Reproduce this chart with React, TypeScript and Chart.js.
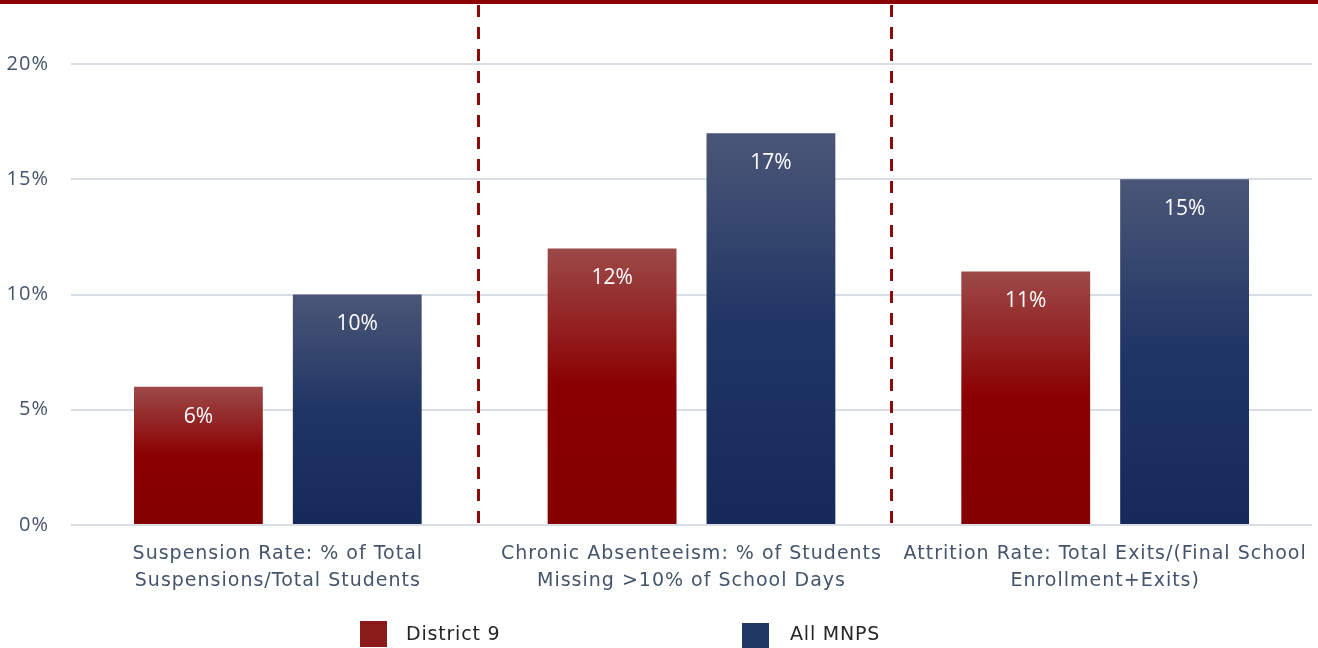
import React, { useEffect, useRef } from 'react';
import { Chart, registerables } from 'chart.js';
Chart.register(...registerables);

const categories: string[][] = [
  ['Suspension Rate: % of Total', 'Suspensions/Total Students'],
  ['Chronic Absenteeism: % of Students', 'Missing >10% of School Days'],
  ['Attrition Rate: Total Exits/(Final School', 'Enrollment+Exits)'],
];
const seriesNames = ['District 9', 'All MNPS'];
const district9 = [6, 12, 11];
const allMnps = [10, 17, 15];
const yMin = 0;
const yMax = 20;
const yStep = 5;

const RED_STOPS = ['#9c4a49', '#8b0000', '#840000'];
const BLUE_STOPS = ['#4b5677', '#1f3564', '#162a59'];
const LEGEND_RED = '#8b1a1a';
const LEGEND_BLUE = '#1f3864';
const LABEL_FONT = '"DejaVu Sans", sans-serif';

function gradient(stops: string[]) {
  return (ctx: any) => {
    const chart = ctx.chart;
    if (!chart.chartArea || ctx.type !== 'data') return stops[1];
    const y = chart.scales.y;
    const top = y.getPixelForValue(ctx.raw);
    const bottom = y.getPixelForValue(0);
    if (!isFinite(top) || !isFinite(bottom) || bottom - top < 1) return stops[1];
    const g = chart.ctx.createLinearGradient(0, top, 0, bottom);
    g.addColorStop(0, stops[0]);
    g.addColorStop(0.5, stops[1]);
    g.addColorStop(1, stops[2]);
    return g;
  };
}

const spacingPlugin = {
  id: 'letterSpacing',
  beforeDraw(chart: any) {
    (chart.ctx as any).letterSpacing = '1px';
  },
  afterDraw(chart: any) {
    (chart.ctx as any).letterSpacing = '0px';
  },
};

const separatorPlugin = {
  id: 'separators',
  beforeDatasetsDraw(chart: any) {
    const { ctx, chartArea, scales } = chart;
    const x = scales.x;
    ctx.save();
    ctx.strokeStyle = '#8b0a0a';
    ctx.lineWidth = 3;
    ctx.setLineDash([12, 10]);
    for (let i = 0; i < categories.length - 1; i++) {
      const px = (x.getPixelForValue(i) + x.getPixelForValue(i + 1)) / 2 - 7;
      ctx.beginPath();
      ctx.moveTo(Math.round(px) + 0.5, 5);
      ctx.lineTo(Math.round(px) + 0.5, chartArea.bottom);
      ctx.stroke();
    }
    ctx.restore();
  },
};

const valueLabelPlugin = {
  id: 'valueLabels',
  afterDatasetsDraw(chart: any) {
    const { ctx } = chart;
    ctx.save();
    (ctx as any).letterSpacing = '0px';
    ctx.fillStyle = '#ffffff';
    ctx.font = '21px "Open Sans", sans-serif';
    ctx.textAlign = 'center';
    ctx.textBaseline = 'middle';
    chart.data.datasets.forEach((ds: any, di: number) => {
      const meta = chart.getDatasetMeta(di);
      meta.data.forEach((bar: any, i: number) => {
        ctx.fillText(ds.data[i] + '%', bar.x, bar.y + 30);
      });
    });
    ctx.restore();
  },
};

export default function App() {
  const ref = useRef<HTMLCanvasElement | null>(null);
  useEffect(() => {
    document.body.style.margin = '0';
    const chart = new Chart(ref.current!, {
      type: 'bar',
      data: {
        labels: categories,
        datasets: [
          {
            label: seriesNames[0],
            data: district9,
            backgroundColor: gradient(RED_STOPS),
            categoryPercentage: 0.768,
            barPercentage: 0.811,
          },
          {
            label: seriesNames[1],
            data: allMnps,
            backgroundColor: gradient(BLUE_STOPS),
            categoryPercentage: 0.768,
            barPercentage: 0.811,
          },
        ],
      },
      options: {
        animation: false,
        responsive: false,
        maintainAspectRatio: false,
        layout: { padding: { top: 64, left: 0, right: 6, bottom: 53 } },
        plugins: {
          legend: { display: false },
          tooltip: { enabled: false },
        },
        scales: {
          x: {
            grid: { display: false },
            border: { display: false },
            afterFit: (s: any) => { s.height = 70; },
            ticks: {
              color: '#44546a',
              font: { family: LABEL_FONT, size: 19, lineHeight: 1.42 },
              padding: 8,
              maxRotation: 0,
              autoSkip: false,
            },
          },
          y: {
            min: yMin,
            max: yMax,
            afterFit: (s: any) => { s.width = 71; },
            grid: { color: '#d9dde6', lineWidth: 2, drawTicks: false },
            border: { display: false },
            ticks: {
              stepSize: yStep,
              color: '#44546a',
              font: { family: '"Open Sans", sans-serif', size: 20 },
              padding: 22,
              callback: (v: any) => v + '%',
            },
          },
        },
      },
      plugins: [spacingPlugin, separatorPlugin, valueLabelPlugin],
    });
    return () => chart.destroy();
  }, []);

  const legendText: React.CSSProperties = {
    position: 'absolute',
    fontFamily: LABEL_FONT,
    fontSize: 19,
    letterSpacing: '0.8px',
    color: '#262626',
    lineHeight: '26px',
  };

  return (
    <div style={{ position: 'relative', width: 1318, height: 648, overflow: 'hidden', background: '#fff' }}>
      <div style={{ position: 'absolute', left: 0, top: 0, width: 1318, height: 4, background: '#8b0000' }} />
      <canvas ref={ref} width={1318} height={648} style={{ display: 'block' }} />
      <div style={{ position: 'absolute', left: 360, top: 621, width: 27, height: 26, background: LEGEND_RED }} />
      <div style={{ ...legendText, left: 406, top: 620 }}>{seriesNames[0]}</div>
      <div style={{ position: 'absolute', left: 742, top: 623, width: 27, height: 26, background: LEGEND_BLUE }} />
      <div style={{ ...legendText, left: 790, top: 620 }}>{seriesNames[1]}</div>
    </div>
  );
}
